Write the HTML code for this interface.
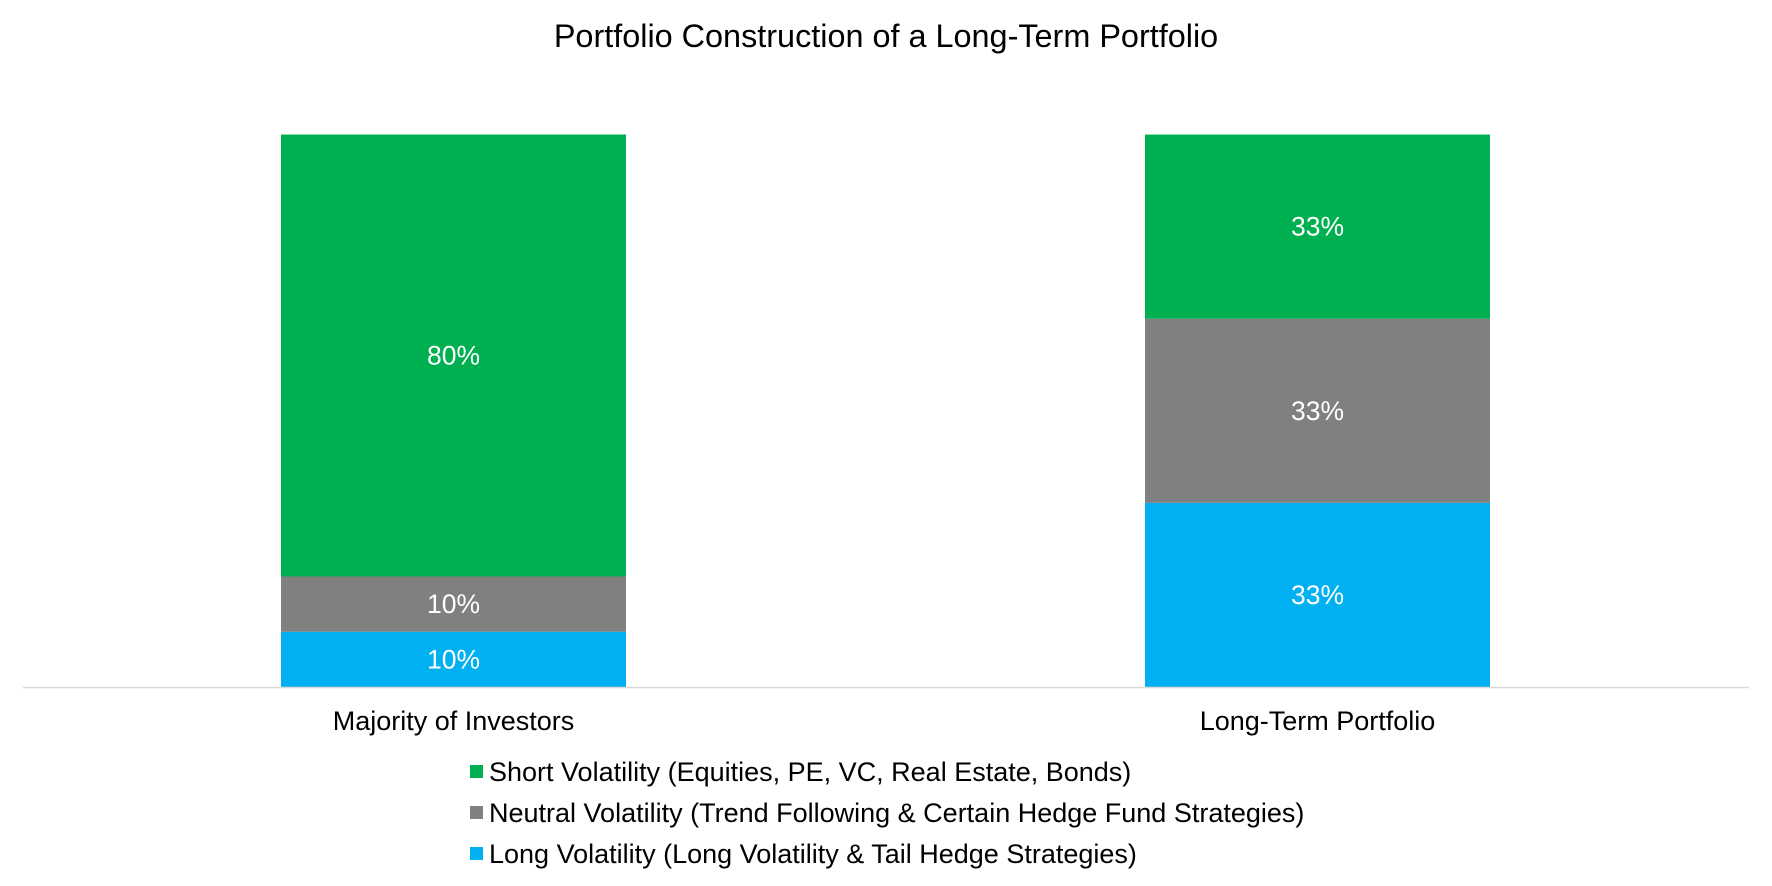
<!DOCTYPE html>
<html><head><meta charset="utf-8"><style>
html,body{margin:0;padding:0;background:#fff;}
svg{display:block;font-family:"Liberation Sans",Arial,sans-serif;}
</style></head><body>
<svg id="chart" width="1772" height="886" viewBox="0 0 1772 886">
<text x="886" y="47" text-anchor="middle" font-size="32.4" fill="#000">Portfolio Construction of a Long-Term Portfolio</text>
<g id="bars"></g>
<line x1="23" y1="687.5" x2="1749" y2="687.5" stroke="#d9d9d9" stroke-width="1.5"/>
<g id="xlabels"></g>
<g id="legend"></g>
</svg>
<script>
const categories = ["Majority of Investors", "Long-Term Portfolio"];
const seriesNames = ["Short Volatility (Equities, PE, VC, Real Estate, Bonds)", "Neutral Volatility (Trend Following & Certain Hedge Fund Strategies)", "Long Volatility (Long Volatility & Tail Hedge Strategies)"];
const shortVol = [80, 33.33];
const neutralVol = [10, 33.33];
const longVol = [10, 33.33];
const labelsShort = ["80%", "33%"];
const labelsNeutral = ["10%", "33%"];
const labelsLong = ["10%", "33%"];

const colors = ["#00b050", "#808080", "#00b0f0"];
const NS = "http://www.w3.org/2000/svg";
const y0 = 687, yTop = 134.5, maxV = 100;
const yScale = v => (v / maxV) * (y0 - yTop);
const xCenter = i => 453.5 + i * 864;
const barW = 345;
const bars = document.getElementById('bars');
const stacks = [longVol, neutralVol, shortVol];
const stackLabels = [labelsLong, labelsNeutral, labelsShort];
const stackColors = [colors[2], colors[1], colors[0]];
const stackNames = ['long-vol', 'neutral-vol', 'short-vol'];
categories.forEach((c, i) => {
  let base = y0;
  stacks.forEach((s, k) => {
    const h = yScale(s[i]);
    const r = document.createElementNS(NS, 'rect');
    r.setAttribute('x', xCenter(i) - barW / 2);
    r.setAttribute('y', base - h);
    r.setAttribute('width', barW);
    r.setAttribute('height', h);
    r.setAttribute('fill', stackColors[k]);
    
    
    bars.appendChild(r);
    const t = document.createElementNS(NS, 'text');
    t.setAttribute('x', xCenter(i));
    t.setAttribute('y', base - h / 2 + 9);
    t.setAttribute('text-anchor', 'middle');
    t.setAttribute('font-size', '26.5');
    t.setAttribute('fill', '#fff');
    t.textContent = stackLabels[k][i];
    
    
    bars.appendChild(t);
    base -= h;
  });
  const lt = document.createElementNS(NS, 'text');
  lt.setAttribute('x', xCenter(i));
  lt.setAttribute('y', 730);
  lt.setAttribute('text-anchor', 'middle');
  lt.setAttribute('font-size', '27');
  lt.setAttribute('fill', '#000');
  lt.textContent = c;
  
  
  document.getElementById('xlabels').appendChild(lt);
});
const legend = document.getElementById('legend');
const ly = [772, 813, 854];
seriesNames.forEach((n, k) => {
  const g = document.createElementNS(NS, 'g');
  
  
  const r = document.createElementNS(NS, 'rect');
  r.setAttribute('x', 470); r.setAttribute('y', ly[k] - 7);
  r.setAttribute('width', 13); r.setAttribute('height', 13);
  r.setAttribute('fill', colors[k]);
  
  
  const t = document.createElementNS(NS, 'text');
  t.setAttribute('x', 489); t.setAttribute('y', ly[k] + 9);
  t.setAttribute('font-size', '27'); t.setAttribute('fill', '#000');
  t.textContent = n;
  
  
  g.appendChild(r); g.appendChild(t); legend.appendChild(g);
});
</script>
</body></html>
